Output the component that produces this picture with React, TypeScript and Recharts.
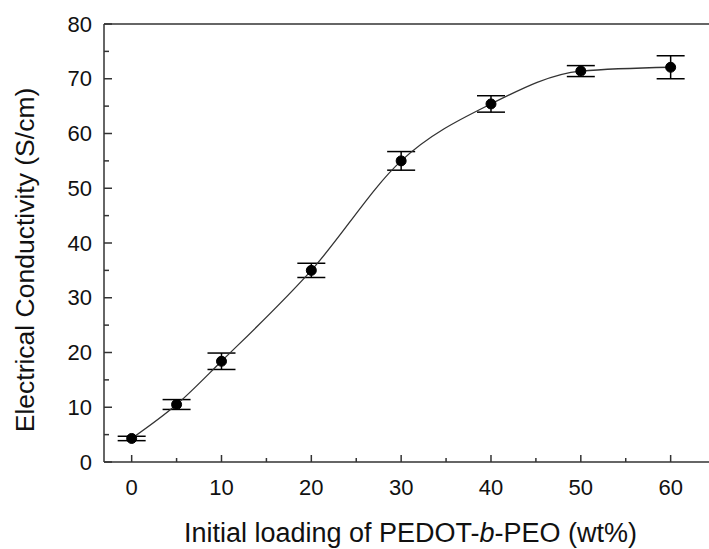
import React from 'react';
import { LineChart, Line, XAxis, YAxis, ErrorBar, ReferenceLine } from 'recharts';

const loadings = [0, 5, 10, 20, 30, 40, 50, 60];
const conductivity = [4.3, 10.5, 18.4, 35.0, 55.0, 65.4, 71.4, 72.1];
const errors = [0.4, 0.9, 1.5, 1.3, 1.7, 1.5, 1.0, 2.1];

const xTicks = [0, 5, 10, 15, 20, 25, 30, 35, 40, 45, 50, 55, 60];
const yTicks = [0, 5, 10, 15, 20, 25, 30, 35, 40, 45, 50, 55, 60, 65, 70, 75, 80];

const data = loadings.map((x, i) => ({ x, y: conductivity[i], err: errors[i] }));

const FONT = '"Liberation Sans", Arial, sans-serif';
const AXIS = '#333';
const TEXT = '#111';

const XTick = (props: any) => {
  const { x, y, payload } = props;
  const major = payload.value % 10 === 0;
  return (
    <g>
      <line x1={x} x2={x} y1={y} y2={y - (major ? 7 : 4)} stroke={AXIS} strokeWidth={1.5} />
      {major && (
        <text x={x} y={y + 33} textAnchor="middle" fontSize={22} fontFamily={FONT} fill={TEXT}>
          {payload.value}
        </text>
      )}
    </g>
  );
};

const YTick = (props: any) => {
  const { x, y, payload } = props;
  const major = payload.value % 10 === 0;
  return (
    <g>
      <line x1={x} x2={x + (major ? 8 : 5)} y1={y} y2={y} stroke={AXIS} strokeWidth={1.5} />
      {major && (
        <text x={x - 12} y={y + 7.5} textAnchor="end" fontSize={22} fontFamily={FONT} fill={TEXT}>
          {payload.value}
        </text>
      )}
    </g>
  );
};

const XLabel = (props: any) => {
  const { viewBox } = props;
  const cx = viewBox.x + viewBox.width / 2 + 4;
  return (
    <text x={cx} y={viewBox.y + 80} textAnchor="middle" fontSize={27} fontFamily={FONT} fill={TEXT}>
      Initial loading of PEDOT-<tspan fontStyle="italic">b</tspan>-PEO (wt%)
    </text>
  );
};

const YLabel = (props: any) => {
  const { viewBox } = props;
  const cx = 34;
  const cy = viewBox.y + viewBox.height / 2 + 17;
  return (
    <text
      x={cx}
      y={cy}
      transform={`rotate(-90 ${cx} ${cy})`}
      textAnchor="middle"
      fontSize={26.5}
      fontFamily={FONT}
      fill={TEXT}
    >
      Electrical Conductivity (S/cm)
    </text>
  );
};

export default function App() {
  return (
    <div style={{ position: 'absolute', left: 0, top: 0, width: 709, height: 549, background: '#fff', overflow: 'hidden' }}>
      <LineChart width={709} height={549} data={data} margin={{ top: 24, right: 0, bottom: 0, left: 0 }}>
        <XAxis
          dataKey="x"
          type="number"
          domain={[-3.08, 64.27]}
          allowDataOverflow
          ticks={xTicks}
          interval={0}
          tickSize={0}
          tickMargin={0}
          tickLine={false}
          tick={<XTick />}
          stroke={AXIS}
          strokeWidth={1.5}
          height={87}
          label={<XLabel />}
        />
        <YAxis
          type="number"
          domain={[0, 80]}
          ticks={yTicks}
          interval={0}
          tickSize={0}
          tickMargin={0}
          tickLine={false}
          tick={<YTick />}
          stroke={AXIS}
          strokeWidth={1.5}
          width={104}
          label={<YLabel />}
        />
        <ReferenceLine y={80} stroke={AXIS} strokeWidth={1.5} />
        <Line
          dataKey="y"
          type="monotone"
          stroke="#333"
          strokeWidth={1.3}
          dot={{ r: 5, fill: '#000', stroke: '#000', strokeWidth: 1 }}
          activeDot={false}
          isAnimationActive={false}
        >
          <ErrorBar dataKey="err" direction="y" width={14} stroke="#000" strokeWidth={1.5} isAnimationActive={false} />
        </Line>
      </LineChart>
    </div>
  );
}
